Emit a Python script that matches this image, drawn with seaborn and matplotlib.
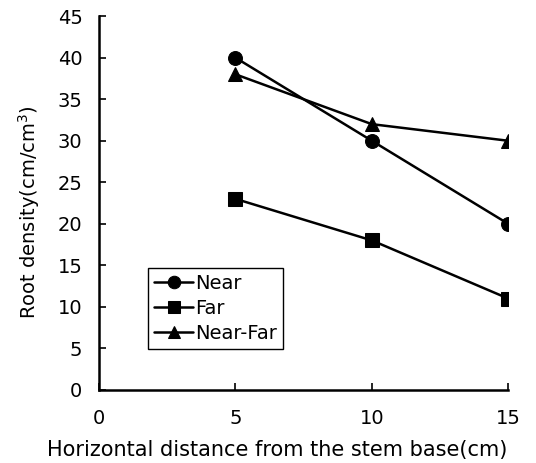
import seaborn as sns
import matplotlib.pyplot as plt
import pandas as pd

distance = [5, 10, 15]
near = [40, 30, 20]
far = [23, 18, 11]
near_far = [38, 32, 30]
groups = ["Near", "Far", "Near-Far"]

df = pd.DataFrame({
    "Distance": distance * 3,
    "Density": near + far + near_far,
    "Group": [g for g in groups for _ in distance],
})

sns.set_style("ticks", {"text.color": "black", "axes.labelcolor": "black",
                        "xtick.color": "black", "ytick.color": "black",
                        "axes.edgecolor": "black"})
plt.rcParams["font.family"] = ["DejaVu Sans"]

fig = plt.figure(figsize=(5.36, 4.63), dpi=100)
ax = fig.add_axes([0.185, 0.158, 0.763, 0.807])

sns.lineplot(data=df, x="Distance", y="Density", hue="Group", style="Group",
             palette=["black"] * 3, markers=["o", "s", "^"], dashes=False,
             markersize=10, linewidth=1.8, markeredgecolor="black", ax=ax)

ax.set_xlim(0, 15)
ax.set_ylim(0, 45)
ax.set_xticks([0, 5, 10, 15])
ax.set_yticks(range(0, 50, 5))
ax.tick_params(direction="in", length=5, width=1.2, labelsize=14,
               color="black", labelcolor="black")
ax.tick_params(axis="x", pad=14)
ax.tick_params(axis="y", pad=12)
for s in ["top", "right"]:
    ax.spines[s].set_visible(False)
for s in ["left", "bottom"]:
    ax.spines[s].set_linewidth(1.8)
    ax.spines[s].set_color("black")

ax.set_xlabel("Horizontal distance from the stem base(cm)", fontsize=15, color="black")
ax.xaxis.set_label_coords(0.435, -0.135)
ax.set_ylabel("Root density(cm/cm$^3$)", fontsize=14, color="black")
ax.yaxis.set_label_coords(-0.14, 0.475)

leg = ax.legend(loc="lower left", bbox_to_anchor=(0.12, 0.11), fontsize=14,
                frameon=True, fancybox=False, edgecolor="black", framealpha=1,
                handlelength=2.0, handletextpad=0.1, borderpad=0.3, labelspacing=0.3,
                borderaxespad=0, markerscale=0.9)
leg.get_frame().set_linewidth(1.0)
for t in leg.get_texts():
    t.set_color("black")

fig.savefig("out.png", dpi=100)
